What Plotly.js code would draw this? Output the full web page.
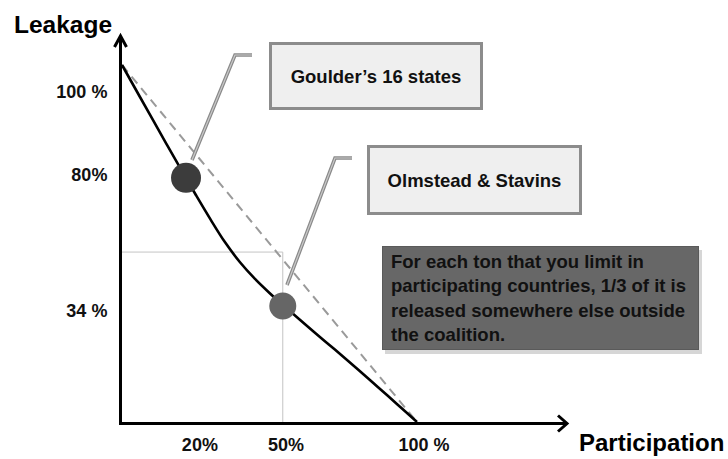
<!DOCTYPE html>
<html>
<head>
<meta charset="utf-8">
<script src="https://cdn.plot.ly/plotly-3.0.1.min.js"></script>
<style>html,body{margin:0;padding:0;background:#fff;}#chart{width:728px;height:459px;}</style>
</head>
<body>
<div id="chart"></div>
<script>
// ---- data ----
const participation = [0, 5, 10, 15, 20, 25, 30, 35, 40, 45, 50, 55, 60, 65, 70, 75, 80, 85, 90, 95, 100];
const leakage       = [100, 92.65, 85.3, 78.0, 70.75, 63.65, 56.75, 50.25, 44.75, 40.15, 36.15,
                       32.45, 28.85, 25.3, 21.8, 18.3, 14.7, 11.05, 7.4, 3.7, 0];
const fullLeakX = [0, 100];
const fullLeakY = [100, 0];
const studyNames = ["Goulder\u2019s 16 states", "Olmstead & Stavins"];
const studyX = [21.7, 54.5];
const studyY = [68.4, 32.5];
const guideX = [0, 54.5, 54.5];
const guideY = [47.6, 47.6, 0];
const xTickVals = [26.4, 55.6, 102.4];
const xTickText = ["20%", "50%", "100 %"];
const yTickVals = [92.5, 69.4, 31.2];
const yTickText = ["100 %", "80%", "34 %"];
const noteLines = ["For each ton that you limit in", "participating countries, 1/3 of it is",
                   "released somewhere else outside", "the coalition."];
const xTitle = "Participation";
const yTitle = "Leakage";

// ---- layout geometry (pixels) ----
const PL = 122, PR = 566, PT = 37, PB = 422;
const W = PR - PL, H = PB - PT;
const px = v => (v - PL) / W;   // pixel x -> paper
const py = v => (PB - v) / H;   // pixel y -> paper
const path = pts => pts.map((p, i) => (i ? "L" : "M") + px(p[0]) + "," + py(p[1])).join(" ");
const FONT = "Liberation Sans, Arial, sans-serif";

const traces = [
  {x: guideX, y: guideY, mode: "lines", line: {color: "#c4c4c4", width: 1}, hoverinfo: "skip"},
  {x: fullLeakX, y: fullLeakY, mode: "lines", line: {color: "#9a9a9a", width: 2, dash: "9px,6px"}, hoverinfo: "skip"},
  {x: participation, y: leakage, mode: "lines", line: {color: "#000", width: 2.6, shape: "spline", smoothing: 1}},
  {x: studyX, y: studyY, text: studyNames, mode: "markers",
   marker: {size: [30, 27], color: ["#3c3c3c", "#666666"], opacity: 1, line: {width: 0}}}
];

const leader1 = [[192, 160], [235, 55], [252, 55]];
const leader2 = [[287, 285], [335, 158], [352, 158]];
const shapes = [
  // axes
  {type: "path", xref: "paper", yref: "paper", path: path([[120.5, 424], [120.5, 37]]), line: {color: "#000", width: 3}},
  {type: "path", xref: "paper", yref: "paper", path: path([[119, 423.5], [566, 423.5]]), line: {color: "#000", width: 3}},
  // arrow heads
  {type: "path", xref: "paper", yref: "paper", path: path([[114.5, 47], [120.5, 36], [126.5, 47]]), line: {color: "#000", width: 3}},
  {type: "path", xref: "paper", yref: "paper", path: path([[558, 415.5], [567, 423.5], [558, 431.5]]), line: {color: "#000", width: 3}},
  // leader lines
  {type: "path", xref: "paper", yref: "paper", path: path(leader1), line: {color: "#8a8a8a", width: 3.6}},
  {type: "path", xref: "paper", yref: "paper", path: path(leader1), line: {color: "#c9c9c9", width: 1.2}},
  {type: "path", xref: "paper", yref: "paper", path: path(leader2), line: {color: "#8a8a8a", width: 3.6}},
  {type: "path", xref: "paper", yref: "paper", path: path(leader2), line: {color: "#c9c9c9", width: 1.2}},
  // shadow of note box
  {type: "rect", xref: "paper", yref: "paper", x0: px(385), x1: px(702), y0: py(250), y1: py(354),
   fillcolor: "rgba(0,0,0,0.16)", line: {width: 0}}
];

const boxFont = {family: FONT, size: 18.5, color: "#111", weight: "bold"};
const annotations = [
  {xref: "paper", yref: "paper", x: px(12), y: py(25), xanchor: "left", yanchor: "middle", showarrow: false,
   text: yTitle, font: {family: FONT, size: 24.5, color: "#000", weight: "bold"}},
  {xref: "paper", yref: "paper", x: px(577), y: py(443), xanchor: "left", yanchor: "middle", showarrow: false,
   text: xTitle, font: {family: FONT, size: 24, color: "#000", weight: "bold"}},
  {xref: "paper", yref: "paper", x: px(376), y: py(76), xanchor: "center", yanchor: "middle", showarrow: false,
   text: studyNames[0], font: boxFont, bgcolor: "#efefef", bordercolor: "#8c8c8c", borderwidth: 3, borderpad: 0,
   width: 208, height: 62},
  {xref: "paper", yref: "paper", x: px(474.5), y: py(180), xanchor: "center", yanchor: "middle", showarrow: false,
   text: studyNames[1], font: boxFont, bgcolor: "#efefef", bordercolor: "#8c8c8c", borderwidth: 3, borderpad: 0,
   width: 209, height: 64},
  {xref: "paper", yref: "paper", x: px(540.5), y: py(298), xanchor: "center", yanchor: "middle", showarrow: false,
   text: noteLines.join("<br>"), align: "left", valign: "middle", font: boxFont,
   bgcolor: "#676767", bordercolor: "#5a5a5a", borderwidth: 1, borderpad: 8, width: 299, height: 86}
];

const tickFont = {family: FONT, size: 18, color: "#111", weight: "bold"};
const layout = {
  width: 728, height: 459,
  margin: {l: PL, r: 728 - PR, t: PT, b: 459 - PB, pad: 0},
  paper_bgcolor: "#fff", plot_bgcolor: "rgba(0,0,0,0)",
  showlegend: false,
  xaxis: {range: [0, W / 2.95], showgrid: false, zeroline: false, showline: false,
          tickmode: "array", tickvals: xTickVals, ticktext: xTickText,
          ticks: "outside", ticklen: 6, tickcolor: "rgba(0,0,0,0)", tickfont: tickFont, fixedrange: true},
  yaxis: {range: [0, H / 3.57], showgrid: false, zeroline: false, showline: false,
          tickmode: "array", tickvals: yTickVals, ticktext: yTickText,
          ticks: "outside", ticklen: 10, tickcolor: "rgba(0,0,0,0)", tickfont: tickFont, fixedrange: true},
  shapes: shapes,
  annotations: annotations
};

Plotly.newPlot("chart", traces, layout, {displayModeBar: false, staticPlot: true});
</script>
</body>
</html>
